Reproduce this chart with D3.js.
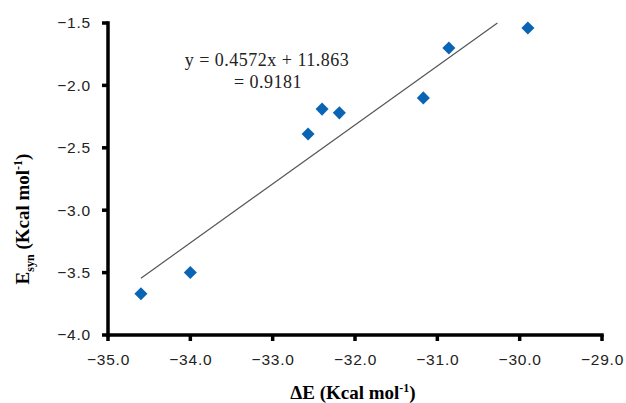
<!DOCTYPE html>
<html>
<head>
<meta charset="utf-8">
<script src="https://cdn.jsdelivr.net/npm/d3@7"></script>
<style>
  body { margin: 0; background: #fff; }
</style>
</head>
<body>
<div id="chart"></div>
<script>
const width = 626
const height = 403

/* Data */
const deltaE = [-34.6, -34.0, -32.57, -32.4, -32.19, -31.17, -30.86, -29.9]
const esyn = [-3.67, -3.5, -2.39, -2.19, -2.22, -2.1, -1.7, -1.54]

/* Trendline endpoints as drawn */
const trendX = [-34.6, -30.27]
const trendY = [-3.545, -1.5]

const xTicks = [-35, -34, -33, -32, -31, -30, -29]
const yTicks = [-4, -3.5, -3, -2.5, -2, -1.5]

const eqLine1 = 'y = 0.4572x + 11.863'
const eqLine2 = '= 0.9181'

const margin = { left: 108, right: 24, top: 23, bottom: 68 }
const lw = 3.5

const x = d3.scaleLinear().domain([-35, -29]).range([margin.left, width - margin.right])
const y = d3.scaleLinear().domain([-4, -1.5]).range([height - margin.bottom, margin.top])

const svg = d3.select('#chart').append('svg').attr('width', width).attr('height', height)

const fmt = d => d3.format('.1f')(d).replace('-', '\u2212')

/* Axes: labels from d3.axis, heavy lines as filled rects */
const xAxis = svg.append('g')
    .attr('transform', `translate(0,${y(-4)})`)
    .call(d3.axisBottom(x).tickValues(xTicks).tickFormat(fmt).tickSize(0).tickPadding(19))
const yAxis = svg.append('g')
    .attr('transform', `translate(${x(-35)},0)`)
    .call(d3.axisLeft(y).tickValues(yTicks).tickFormat(fmt).tickSize(0).tickPadding(17))

for (const ax of [xAxis, yAxis]) {
    ax.select('.domain').remove()
    ax.selectAll('.tick line').remove()
    ax.selectAll('.tick text')
        .attr('font-family', 'Liberation Sans, Arial, sans-serif')
        .attr('font-size', 15.5)
        .attr('fill', '#222')
        .attr('letter-spacing', 0.8)
}

const lines = svg.append('g').attr('fill', '#000')
lines.append('rect')
    .attr('x', x(-35) - lw / 2).attr('y', y(-1.5) - lw / 2)
    .attr('width', lw).attr('height', y(-4) - y(-1.5) + lw)
lines.append('rect')
    .attr('x', x(-35) - lw / 2).attr('y', y(-4) - lw / 2)
    .attr('width', x(-29) - x(-35) + lw).attr('height', lw)
lines.selectAll('rect.xt')
    .data(xTicks)
    .join('rect')
    .attr('class', 'xt')
    .attr('x', d => x(d) - lw / 2).attr('y', y(-4))
    .attr('width', lw).attr('height', 6)
lines.selectAll('rect.yt')
    .data(yTicks)
    .join('rect')
    .attr('class', 'yt')
    .attr('x', x(-35) - 6).attr('y', d => y(d) - lw / 2)
    .attr('width', 6).attr('height', lw)

/* Trendline */
svg.append('line')
    .attr('x1', x(trendX[0])).attr('y1', y(trendY[0]))
    .attr('x2', x(trendX[1])).attr('y2', y(trendY[1]))
    .attr('stroke', '#555')
    .attr('stroke-width', 1.2)

/* Points */
const diamond = d3.symbol().type(d3.symbolSquare).size(85)
svg.append('g')
    .selectAll('path')
    .data(deltaE.map((d, i) => ({ x: d, y: esyn[i] })))
    .join('path')
    .attr('d', diamond)
    .attr('transform', d => `translate(${x(d.x)},${y(d.y)}) rotate(45)`)
    .attr('fill', '#0a64b4')

/* Equation text */
const eq = svg.append('text')
    .attr('font-family', 'Liberation Serif, Times New Roman, serif')
    .attr('font-size', 18)
    .attr('letter-spacing', 0.5)
    .attr('fill', '#222')
    .attr('text-anchor', 'middle')
eq.append('tspan').attr('x', 267).attr('y', 66).text(eqLine1)
eq.append('tspan').attr('x', 268).attr('y', 88).text(eqLine2)

/* Axis titles */
const xt = svg.append('text')
    .attr('x', 353).attr('y', 399)
    .attr('text-anchor', 'middle')
    .attr('font-family', 'Liberation Serif, Times New Roman, serif')
    .attr('font-weight', 'bold')
    .attr('font-size', 19)
xt.append('tspan').text('\u0394E (Kcal mol')
xt.append('tspan').attr('dy', -7).attr('font-size', 12).text('-1')
xt.append('tspan').attr('dy', 7).text(')')

const yt = svg.append('text')
    .attr('transform', 'translate(29,219) rotate(-90)')
    .attr('text-anchor', 'middle')
    .attr('font-family', 'Liberation Serif, Times New Roman, serif')
    .attr('font-weight', 'bold')
    .attr('font-size', 19)
yt.append('tspan').text('E')
yt.append('tspan').attr('dy', 5).attr('font-size', 12).text('syn')
yt.append('tspan').attr('dy', -5).text(' (Kcal mol')
yt.append('tspan').attr('dy', -7).attr('font-size', 12).text('-1')
yt.append('tspan').attr('dy', 7).text(')')
</script>
</body>
</html>
